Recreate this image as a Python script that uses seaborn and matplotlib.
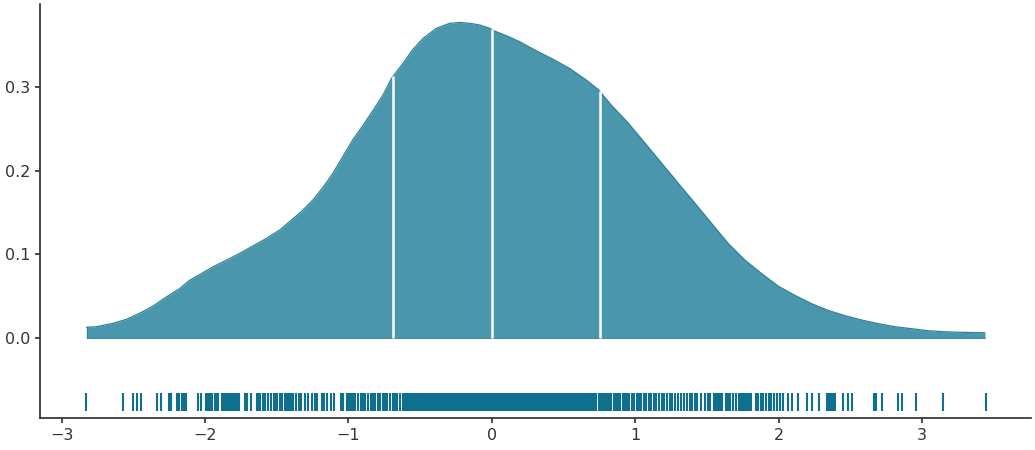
import numpy as np
import matplotlib
matplotlib.use("Agg")
import matplotlib.pyplot as plt
import seaborn as sns

# density curve (x, density)
kde_x = [-2.826, -2.759, -2.643, -2.549, -2.456, -2.364, -2.270, -2.177, -2.107,
         -2.015, -1.945, -1.851, -1.759, -1.666, -1.572, -1.479, -1.410, -1.328,
         -1.247, -1.177, -1.107, -1.038, -0.968, -0.898, -0.828, -0.759, -0.700,
         -0.620, -0.549, -0.479, -0.386, -0.293, -0.223, -0.154, -0.084, -0.014,
         0.016, 0.105, 0.195, 0.312, 0.428, 0.544, 0.661, 0.742, 0.835, 0.951,
         1.068, 1.184, 1.300, 1.417, 1.533, 1.649, 1.766, 1.882, 1.998, 2.114,
         2.231, 2.347, 2.463, 2.580, 2.696, 2.812, 2.929, 3.045, 3.161, 3.278, 3.440]
kde_y = [0.0128, 0.0135, 0.0175, 0.0223, 0.0295, 0.038, 0.049, 0.059, 0.069,
         0.078, 0.085, 0.093, 0.101, 0.110, 0.119, 0.129, 0.139, 0.151,
         0.165, 0.180, 0.197, 0.217, 0.237, 0.254, 0.272, 0.290, 0.310,
         0.328, 0.345, 0.358, 0.370, 0.376, 0.377, 0.376, 0.374, 0.370,
         0.367, 0.361, 0.354, 0.343, 0.333, 0.322, 0.308, 0.297, 0.278, 0.257,
         0.233, 0.209, 0.185, 0.161, 0.137, 0.113, 0.093, 0.077, 0.062, 0.051,
         0.041, 0.033, 0.0267, 0.0215, 0.0171, 0.0135, 0.0111, 0.0087, 0.0075, 0.0068, 0.0063]

# quartiles
quartiles = [-0.689, 0.0, 0.754]

# rug positions
rug_left = [-2.83, -2.573, -2.503, -2.475, -2.447, -2.336, -2.308, -2.252, -2.240,
            -2.196, -2.182, -2.163, -2.149, -2.135, -2.047, -2.031, -1.991, -1.977,
            -1.968, -1.949, -1.933, -1.921, -1.907, -1.879, -1.870, -1.861, -1.851,
            -1.837, -1.823, -1.809, -1.796, -1.782, -1.770, -1.766, -1.724, -1.705,
            -1.682, -1.635, -1.626, -1.617, -1.598, -1.579, -1.561, -1.537, -1.519,
            -1.509, -1.495, -1.477, -1.463, -1.445, -1.431, -1.417, -1.403, -1.389,
            -1.366, -1.347, -1.328, -1.300, -1.282, -1.254, -1.235, -1.216, -1.184,
            -1.170, -1.151, -1.119, -1.100, -1.054, -1.035, -1.012, -0.998, -0.984,
            -0.965, -0.951, -0.933, -0.914, -0.895, -0.881, -0.863, -0.839, -0.826,
            -0.812, -0.793, -0.779, -0.761, -0.742, -0.728, -0.710, -0.691, -0.677,
            -0.658, -0.640, -0.621]
rug_mid = [-0.61, -0.60, -0.585, -0.57, -0.56, -0.548, -0.535, -0.52, -0.51, -0.497,
           -0.485, -0.47, -0.458, -0.445, -0.43, -0.42, -0.405, -0.392, -0.38, -0.368,
           -0.355, -0.34, -0.33, -0.317, -0.305, -0.29, -0.278, -0.265, -0.252, -0.24,
           -0.228, -0.215, -0.20, -0.19, -0.177, -0.165, -0.15, -0.138, -0.125, -0.112,
           -0.10, -0.088, -0.075, -0.062, -0.05, -0.038, -0.025, -0.012, 0.0, 0.012,
           0.025, 0.037, 0.05, 0.062, 0.075, 0.088, 0.10, 0.113, 0.125, 0.138, 0.15,
           0.163, 0.176, 0.188, 0.20, 0.213, 0.226, 0.238, 0.25, 0.264, 0.277, 0.29,
           0.302, 0.315, 0.328, 0.34, 0.353, 0.366, 0.38, 0.392, 0.405, 0.418, 0.43,
           0.444, 0.457, 0.47, 0.483, 0.496, 0.51, 0.523, 0.536, 0.55, 0.563, 0.577,
           0.59, 0.604, 0.618, 0.632, 0.645, 0.66, 0.673, 0.688, 0.702, 0.716, 0.73,
           0.745, 0.76, 0.774, 0.79, 0.804, 0.82, 0.835, 0.85, 0.866, 0.88, 0.897,
           0.912, 0.928, 0.944, 0.96, 0.977, 0.993, 1.01, 1.027, 1.044, 1.06, 1.078,
           1.095, 1.113, 1.13, 1.148, 1.167, 1.185, 1.204, 1.222, 1.242, 1.26, 1.28,
           1.30, 1.32, 1.34, 1.36, 1.38, 1.40]
rug_right = [1.417, 1.435, 1.458, 1.486, 1.505, 1.523, 1.547, 1.561, 1.575, 1.589,
             1.603, 1.631, 1.649, 1.663, 1.682, 1.703, 1.722, 1.740, 1.754, 1.766,
             1.780, 1.794, 1.805, 1.842, 1.858, 1.875, 1.893, 1.912, 1.935, 1.949,
             1.968, 1.991, 2.010, 2.033, 2.068, 2.094, 2.137, 2.200, 2.231, 2.284,
             2.336, 2.350, 2.364, 2.382, 2.396, 2.451, 2.486, 2.512, 2.666, 2.680,
             2.719, 2.835, 2.863, 2.959, 3.149, 3.45]
rug = rug_left + rug_mid + rug_right

fill_color = "#4a97ad"
edge_color = "#2f8199"
rug_color = "#0e6f8e"

sns.set_theme(style="ticks", rc={"font.size": 11.5, "xtick.labelsize": 11.5,
                                 "ytick.labelsize": 11.5,
                                 "xtick.major.size": 3.5, "ytick.major.size": 3.5,
                                 "xtick.major.pad": 3.5, "ytick.major.pad": 3.5,
                                 "axes.edgecolor": "#333333",
                                 "xtick.color": "#333333", "ytick.color": "#333333"})

fig = plt.figure(figsize=(10.35, 4.5), dpi=100)
ax = fig.add_axes([0.0386, 0.071, 0.9574, 0.92])

ax.fill_between(kde_x, kde_y, 0, color=fill_color, linewidth=0)
sns.lineplot(x=kde_x, y=kde_y, ax=ax, color=edge_color, linewidth=0.9, sort=False)
ax.plot([kde_x[0], kde_x[0]], [0, kde_y[0]], color=edge_color, linewidth=0.9)
ax.plot([kde_x[0], kde_x[-1]], [0, 0], color=edge_color, linewidth=0.6)

# white quartile lines
q_tops = np.interp(quartiles, kde_x, kde_y)
ax.vlines(quartiles, 0, q_tops, color="white", linewidth=1.8)

sns.scatterplot(x=rug, y=[-0.0759] * len(rug), ax=ax, marker="|", s=150,
                linewidth=1.5, color=rug_color)

ax.set_xlim(-3.151, 3.76)
ax.set_ylim(-0.0956, 0.399)
ax.set_xticks([-3, -2, -1, 0, 1, 2, 3])
ax.set_yticks([0.0, 0.1, 0.2, 0.3])
ax.set_xlabel("")
ax.set_ylabel("")
sns.despine(ax=ax)

fig.savefig("out.png", dpi=100)
